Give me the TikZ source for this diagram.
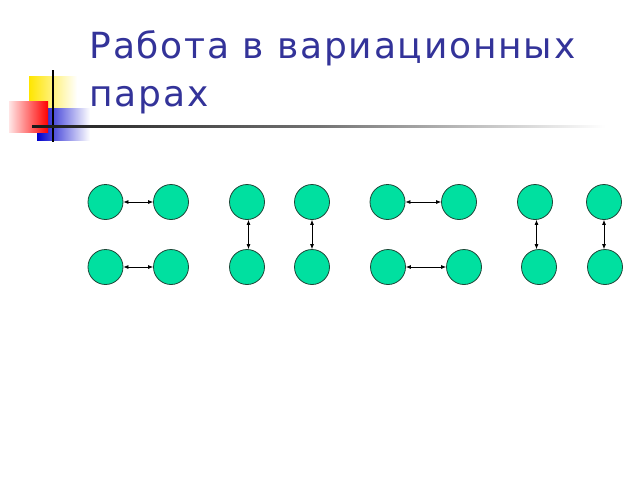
\documentclass[tikz,border=0pt]{standalone}
\usepackage{fontspec}
\setmainfont{DejaVu Sans}
\usetikzlibrary{arrows.meta}

\definecolor{titleblue}{RGB}{51,51,153}
\definecolor{pupil}{RGB}{0,224,160}
\definecolor{rim}{RGB}{30,70,55}

\begin{document}
\begin{tikzpicture}[x = 1pt, y = -1pt,
	pupil/.style = {circle, draw = rim, line width = 0.8pt, fill = pupil, minimum size = 35pt, inner sep = 0pt},
	link/.style = {{Latex[length = 5pt, width = 4pt]}-{Latex[length = 5pt, width = 4pt]}, line width = 0.7pt},
	heading/.style = {anchor = base west, text = titleblue, font = \fontsize{36}{40}\selectfont\addfontfeature{LetterSpace = 5}}]

\useasboundingbox (0,0) rectangle (640,480);

% corner decoration
\shade[left color = yellow!80!orange, right color = white] (29,76) rectangle (77,118);
\shade[left color = blue!80!black, right color = white] (37,108) rectangle (90,140);
\shade[shading angle = 60, left color = red!10, right color = red] (9,101) rectangle (48,132);
\draw[line width = 1.5pt] (53,70) -- (53,142);
\shade[left color = black!90, right color = white, middle color = black!55] (32,125) rectangle (605,127.5);

\node[heading] (title1) at (86,58) {Работа в вариационных};
\node[heading] (title2) at (86,106) {парах};

% pairs facing left-right
\foreach \xa/\xb/\xc/\xd[count = \i] in {105.5/171/105.5/171, 387.5/459/388/464} {
	\node[pupil] (h\i a) at (\xa, 202) {};
	\node[pupil] (h\i b) at (\xb, 202) {};
	\node[pupil] (h\i c) at (\xc, 267) {};
	\node[pupil] (h\i d) at (\xd, 267) {};
	\draw[link] (h\i a) -- (h\i b);
	\draw[link] (h\i c) -- (h\i d);
}

% pairs facing up-down
\foreach \xa/\xb/\xc/\xd[count = \i] in {247/312/247/312, 535/604/539/605} {
	\node[pupil] (v\i a) at (\xa, 202) {};
	\node[pupil] (v\i b) at (\xb, 202) {};
	\node[pupil] (v\i c) at (\xc, 267) {};
	\node[pupil] (v\i d) at (\xd, 267) {};
	\draw[link] ([xshift = 1.5pt]v\i a.south) -- ([xshift = 1.5pt]v\i a.south |- v\i c.north);
	\draw[link] (v\i b.south) -- (v\i b.south |- v\i d.north);
}

\end{tikzpicture}
\end{document}
